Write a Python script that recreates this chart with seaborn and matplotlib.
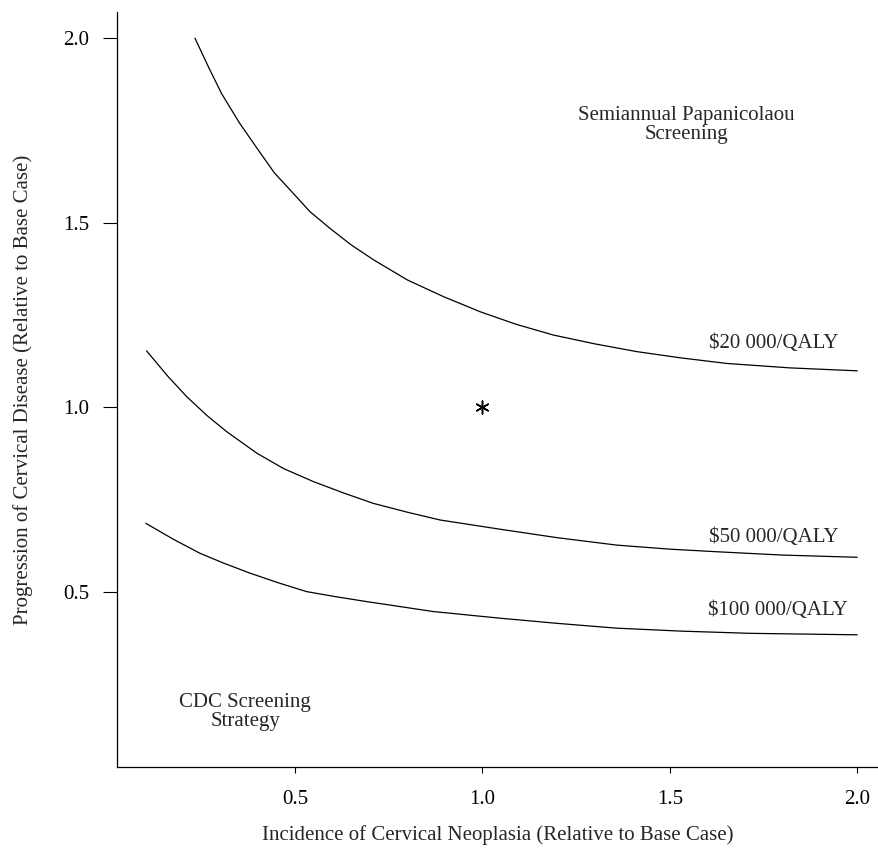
import pandas as pd
import numpy as np
import matplotlib
matplotlib.use("Agg")
import matplotlib.pyplot as plt
import seaborn as sns

# ===== data =====
x_20k = [0.233, 0.270, 0.304, 0.352, 0.402, 0.445, 0.495, 0.540, 0.593, 0.650, 0.709, 0.800, 0.896, 0.994, 1.090, 1.189, 1.300, 1.412, 1.530, 1.652, 1.820, 2.0]
y_20k = [2.0, 1.92, 1.85, 1.77, 1.697, 1.635, 1.58, 1.530, 1.485, 1.44, 1.40, 1.345, 1.30, 1.259, 1.225, 1.196, 1.172, 1.151, 1.134, 1.119, 1.107, 1.099]

x_50k = [0.104, 0.160, 0.211, 0.265, 0.318, 0.398, 0.470, 0.549, 0.630, 0.709, 0.800, 0.887, 1.047, 1.200, 1.358, 1.500, 1.625, 1.800, 2.0]
y_50k = [1.153, 1.085, 1.029, 0.978, 0.934, 0.876, 0.834, 0.799, 0.768, 0.740, 0.716, 0.695, 0.670, 0.647, 0.627, 0.616, 0.609, 0.600, 0.594]

x_100k = [0.102, 0.175, 0.246, 0.310, 0.380, 0.455, 0.531, 0.610, 0.691, 0.869, 1.047, 1.200, 1.358, 1.530, 1.714, 2.0]
y_100k = [0.686, 0.643, 0.605, 0.578, 0.551, 0.525, 0.501, 0.487, 0.474, 0.447, 0.429, 0.415, 0.402, 0.394, 0.388, 0.384]

curve_names = ["$20 000/QALY", "$50 000/QALY", "$100 000/QALY"]
base_case = (1.0, 1.0)

ticks = [0.5, 1.0, 1.5, 2.0]
tick_labels = ["0.5", "1.0", "1.5", "2.0"]

rows = []
for name, xs, ys in zip(curve_names, [x_20k, x_50k, x_100k], [y_20k, y_50k, y_100k]):
    for a, b in zip(xs, ys):
        rows.append({"curve": name, "incidence": a, "progression": b})
df = pd.DataFrame(rows)

sns.set_style("white")
plt.rcParams['font.family'] = ['Liberation Serif', 'DejaVu Serif']
plt.rcParams['mathtext.default'] = 'regular'
fs = 15

fig = plt.figure(figsize=(8.79, 8.49), dpi=100)
ax = fig.add_axes([0.1331, 0.0966, 0.8669, 0.8893])

sns.lineplot(data=df, x="incidence", y="progression", units="curve", estimator=None,
             sort=False, color="black", linewidth=0.9, ax=ax)
ax.scatter([base_case[0]], [base_case[1]], marker=(6, 2, 0), s=90, color="black", linewidths=1.1)

ax.set_xlim(0.025, 2.058)
ax.set_ylim(0.026, 2.071)
ax.set_xticks(ticks)
ax.set_xticklabels(tick_labels)
ax.set_yticks(ticks)
ax.set_yticklabels(tick_labels)

for side in ["top", "right"]:
    ax.spines[side].set_visible(False)
for side in ["left", "bottom"]:
    ax.spines[side].set_color("black")
    ax.spines[side].set_linewidth(0.9)

ax.tick_params(axis="y", direction="out", length=10, width=0.8, pad=10, labelsize=fs, left=True, colors="black")
ax.tick_params(axis="x", direction="out", length=4.5, width=0.8, pad=12, labelsize=fs, bottom=True, colors="black")

ax.set_xlabel("Incidence of Cervical Neoplasia (Relative to Base Case)", fontsize=fs, labelpad=12)
ax.set_ylabel("Progression of Cervical Disease (Relative to Base Case)", fontsize=fs, labelpad=22)

ax.text(1.776, 1.174, curve_names[0].replace("$", r"\$"), fontsize=fs, ha="center", va="center")
ax.text(1.776, 0.648, curve_names[1].replace("$", r"\$"), fontsize=fs, ha="center", va="center")
ax.text(1.789, 0.450, curve_names[2].replace("$", r"\$"), fontsize=fs, ha="center", va="center")
ax.text(1.543, 1.765, "Semiannual Papanicolaou\nScreening", fontsize=fs, ha="center", va="center", linespacing=1.0)
ax.text(0.367, 0.175, "CDC Screening\nStrategy", fontsize=fs, ha="center", va="center", linespacing=1.0)

plt.savefig("out.png", dpi=100)
